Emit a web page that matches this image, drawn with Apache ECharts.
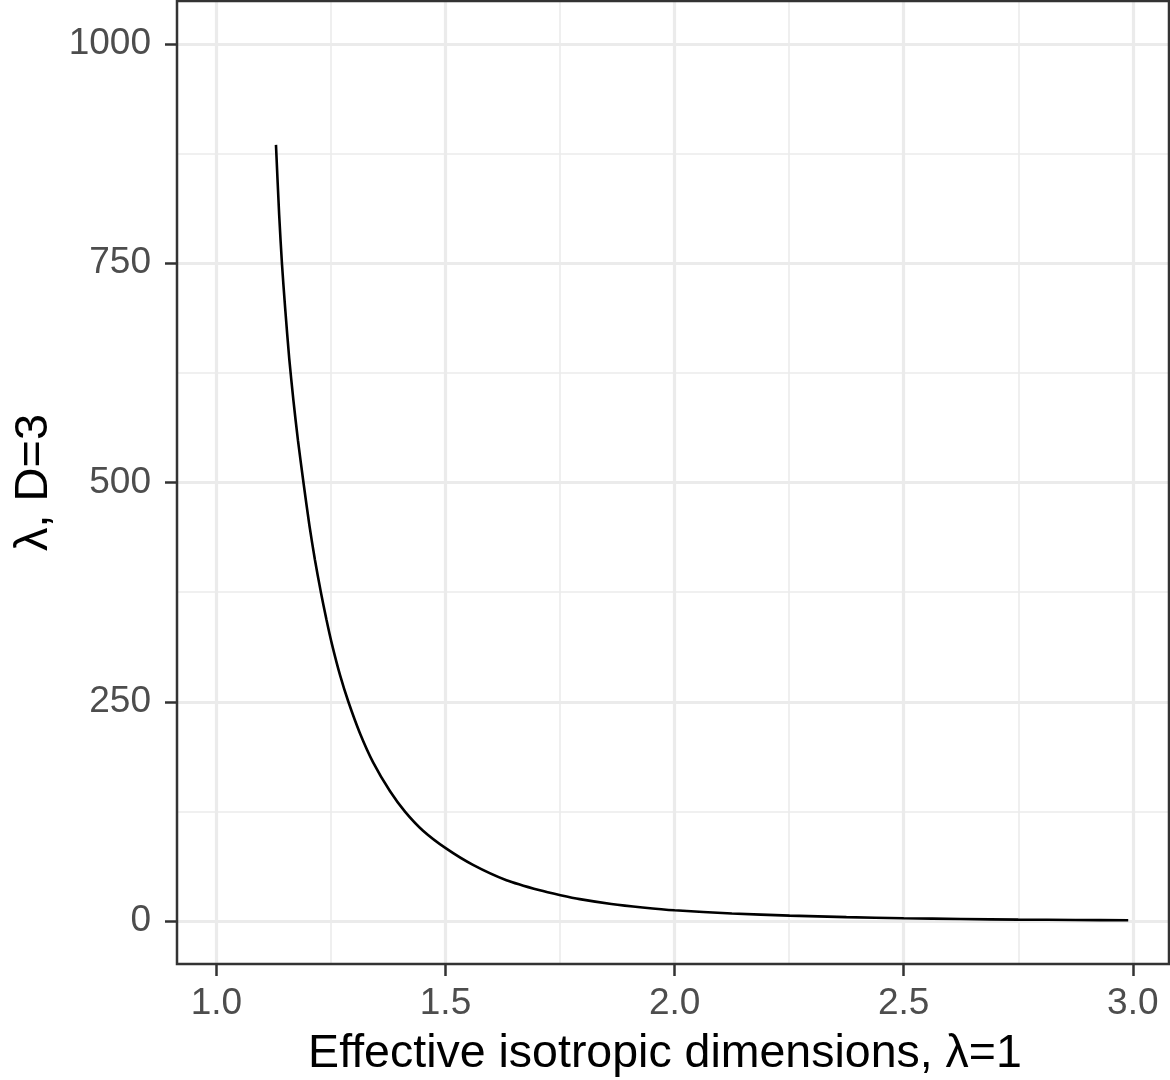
<!DOCTYPE html>
<html>
<head>
<meta charset="utf-8">
<title>lambda vs effective isotropic dimensions</title>
<script src="https://cdn.jsdelivr.net/npm/echarts@6/dist/echarts.min.js"></script>
<style>
  html, body { margin: 0; padding: 0; background: #fff; }
  #chart { width: 1170px; height: 1080px; }
</style>
</head>
<body>
<div id="chart"></div>
<script>
// values
var effDims = [1.130, 1.137, 1.143, 1.150, 1.159, 1.168, 1.178, 1.190, 1.203, 1.215,
  1.228, 1.240, 1.252, 1.270, 1.288, 1.313, 1.342, 1.379, 1.412, 1.451,
  1.502, 1.560, 1.633, 1.706, 1.751, 1.793, 1.862, 1.930, 2.000, 2.125,
  2.251, 2.375, 2.500, 2.625, 2.750, 2.875, 2.990];
var lambdaD3 = [885, 805, 750, 699, 641, 594, 548, 500, 451, 412,
  375, 344, 316, 280, 250, 214.5, 181, 148, 124.5, 103,
  82.5, 64, 46.5, 35, 29.5, 25, 19.5, 15.5, 12.2, 8.6,
  6.2, 4.5, 3.2, 2.3, 1.6, 1.2, 0.9];
var xTicks = [1, 1.5, 2, 2.5, 3];
var yTicks = [0, 250, 500, 750, 1000];

var FONT = '"Liberation Sans", Arial, Helvetica, sans-serif';
var gridCol = "#EBEBEB";
var dark = "#333333";

var points = effDims.map(function (x, i) {
  return [x, lambdaD3[i]];
});

var chart = echarts.init(document.getElementById("chart"), null, { renderer: "canvas" });

var option = {
  backgroundColor: "#ffffff",
  animation: false,
  textStyle: { fontFamily: FONT },
  grid: {
    left: 177,
    right: 1,
    top: 1,
    bottom: 116,
    containLabel: false,
    outerBoundsMode: "none",
    show: true,
    z: 3,
    backgroundColor: "transparent",
    borderColor: dark,
    borderWidth: 2.5
  },
  xAxis: {
    type: "value",
    min: 0.914,
    max: 3.079,
    minInterval: 0.5,
    maxInterval: 0.5,
    name: "Effective isotropic dimensions, \u03bb=1",
    nameLocation: "middle",
    nameGap: 67,
    nameTextStyle: { color: "#000000", fontSize: 46.5, fontFamily: FONT, padding: [0, 16, 0, 0] },
    axisLine: { show: false, onZero: false },
    axisTick: {
      show: true,
      customValues: xTicks,
      length: 12,
      lineStyle: { color: dark, width: 2.5 }
    },
    axisLabel: {
      customValues: xTicks,
      margin: 21,
      color: "#4D4D4D",
      fontSize: 37,
      fontFamily: FONT,
      formatter: function (v) { return v.toFixed(1); }
    },
    splitLine: { show: true, lineStyle: { color: gridCol, width: 3.2 } },
    minorTick: { show: false, splitNumber: 2 },
    minorSplitLine: { show: true, lineStyle: { color: gridCol, width: 1.6 } }
  },
  yAxis: {
    type: "value",
    min: -49,
    max: 1049,
    minInterval: 250,
    maxInterval: 250,
    name: "\u03bb, D=3",
    nameLocation: "middle",
    nameGap: 119,
    nameTextStyle: { color: "#000000", fontSize: 47, fontFamily: FONT },
    axisLine: { show: false, onZero: false },
    axisTick: {
      show: true,
      customValues: yTicks,
      length: 12,
      lineStyle: { color: dark, width: 2.5 }
    },
    axisLabel: {
      customValues: yTicks,
      margin: 26,
      color: "#4D4D4D",
      fontSize: 37,
      fontFamily: FONT,
      formatter: function (v) { return String(v); }
    },
    splitLine: { show: true, lineStyle: { color: gridCol, width: 3.2 } },
    minorTick: { show: false, splitNumber: 2 },
    minorSplitLine: { show: true, lineStyle: { color: gridCol, width: 1.6 } }
  },
  series: [
    {
      type: "line",
      data: points,
      showSymbol: false,
      symbol: "none",
      smooth: 0.25,
      clip: true,
      lineStyle: { color: "#000000", width: 2.6 }
    }
  ]
};

chart.setOption(option);
window.addEventListener("resize", function () {
  chart.resize();
});
</script>
</body>
</html>
